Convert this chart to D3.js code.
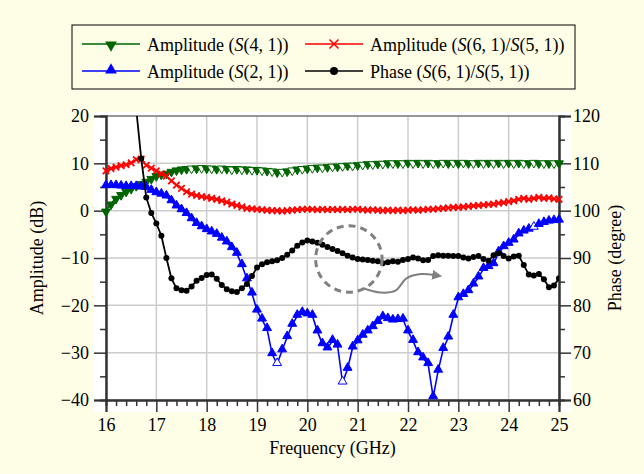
<!DOCTYPE html>
<html>
<head>
<meta charset="utf-8">
<script src="https://cdn.jsdelivr.net/npm/d3@7"></script>
<style>
  html, body { margin: 0; padding: 0; background: #fefee6; }
  svg { display: block; }
</style>
</head>
<body>
<svg id="chart" width="644" height="474"></svg>
<script>
'use strict';

var FONT = 'Liberation Serif', FS = 18;

// frequency grid (GHz), one sample every 0.1 GHz
var freqs = d3.range(0, 91).map(function(i) { return +(16 + i * 0.1).toFixed(1); });

// Amplitude S(4,1), dB
var s41 = [0.0, 1.5, 2.7, 3.5, 4.2, 4.8, 5.4, 5.8, 6.3, 6.9,
    7.5, 7.8, 8.0, 8.4, 8.7, 8.9, 9.0, 9.1, 9.1, 9.2,
    9.1, 9.1, 9.0, 9.1, 9.0, 8.9, 9.0, 8.9, 8.9, 8.8,
    8.8, 8.7, 8.6, 8.5, 8.3, 8.4, 8.5, 8.7, 8.9, 9.0,
    9.1, 9.2, 9.3, 9.3, 9.4, 9.5, 9.5, 9.6, 9.7, 9.7,
    9.8, 9.9, 10.0, 10.0, 10.1, 10.1, 10.2, 10.2, 10.2, 10.2,
    10.3, 10.2, 10.3, 10.2, 10.3, 10.2, 10.2, 10.3, 10.2, 10.3,
    10.2, 10.3, 10.2, 10.2, 10.3, 10.2, 10.3, 10.2, 10.3, 10.2,
    10.3, 10.2, 10.3, 10.2, 10.2, 10.3, 10.2, 10.2, 10.2, 10.2,
    10.2];

// Amplitude S(6,1)/S(5,1), dB
var s61s51 = [8.4, 8.9, 9.2, 9.5, 9.7, 10.1, 10.8, 10.9, 9.6, 9.0,
    8.4, 7.8, 7.3, 6.3, 5.4, 4.7, 4.0, 3.5, 3.2, 3.0,
    2.8, 2.6, 2.4, 2.1, 1.8, 1.4, 1.1, 0.8, 0.5, 0.4,
    0.3, 0.2, 0.1, 0.0, 0.0, -0.1, 0.0, 0.1, 0.2, 0.3,
    0.3, 0.3, 0.2, 0.3, 0.2, 0.3, 0.2, 0.3, 0.2, 0.3,
    0.3, 0.2, 0.1, 0.2, 0.1, 0.0, 0.1, 0.0, 0.1, 0.0,
    0.1, 0.2, 0.1, 0.2, 0.3, 0.3, 0.4, 0.5, 0.6, 0.7,
    0.7, 0.8, 0.9, 1.0, 1.1, 1.2, 1.3, 1.4, 1.6, 1.7,
    1.9, 2.1, 2.4, 2.6, 2.4, 2.6, 2.8, 2.6, 2.7, 2.5,
    2.4];

// Amplitude S(2,1), dB
var s21 = [5.2, 5.2, 5.2, 5.1, 5.0, 5.0, 5.0, 4.9, 4.8, 4.2,
    3.7, 3.4, 3.0, 2.0, 0.9, 0.1, -0.7, -1.8, -2.8, -3.5,
    -4.1, -4.6, -5.1, -5.9, -6.7, -7.9, -9.1, -11.5, -14.5, -17.5,
    -21.1, -23.0, -25.0, -30.3, -32.4, -29.5, -26.7, -24.1, -22.2, -21.6,
    -21.9, -22.2, -25.5, -28.2, -29.1, -27.5, -28.5, -36.3, -33.4, -28.9,
    -27.6, -26.4, -25.5, -24.6, -23.5, -22.5, -22.9, -23.2, -23.1, -23.0,
    -25.5, -27.5, -30.1, -31.2, -32.4, -39.4, -33.8, -29.2, -26.8, -22.2,
    -18.5, -17.8, -17.0, -15.6, -14.1, -12.3, -11.9, -11.3, -8.8, -7.7,
    -7.0, -6.3, -5.0, -4.4, -4.0, -3.6, -3.0, -2.6, -2.3, -2.2,
    -2.1];

// Phase S(6,1)/S(5,1), degree (starts above the axis top)
var phaseFreqs = freqs.slice(5);
var phase = [135.0, 121.5, 111.0, 102.8, 99.5,
    97.3, 94.7, 90.0, 85.7, 83.6, 83.2, 83.1, 84.0, 85.2, 85.8,
    86.4, 86.5, 85.6, 84.3, 83.4, 83.0, 82.8, 83.6, 84.5, 86.2,
    88.0, 88.7, 89.1, 89.3, 89.5, 90.0, 90.7, 91.6, 92.6, 93.3,
    93.7, 93.5, 93.2, 92.8, 92.3, 91.9, 91.5, 91.0, 90.5, 90.1,
    89.8, 89.7, 89.6, 89.4, 89.3, 88.9, 89.1, 89.3, 89.2, 89.6,
    89.8, 90.1, 89.9, 89.5, 89.6, 90.4, 90.6, 90.5, 90.5, 90.4,
    90.4, 90.1, 89.9, 90.2, 90.4, 89.8, 89.4, 90.6, 91.0, 90.4,
    89.9, 90.3, 90.5, 88.5, 86.5, 86.3, 86.6, 85.5, 83.8, 84.2,
    85.7];

// hollow markers seen on the S(2,1) trace
var s21Hollow = [19.4, 20.7, 24.5];

var xTicks = d3.range(16, 26, 1);
var yTicks = [-40, -30, -20, -10, 0, 10, 20];
var yRightTicks = [60, 70, 80, 90, 100, 110, 120];

var colGreen = '#006400', colRed = '#ff0000', colBlue = '#0000ff', colBlack = '#000000';

var margin = {top: 116, right: 85, bottom: 74, left: 106},
    W = 644, H = 474,
    width = W - margin.left - margin.right,
    height = H - margin.top - margin.bottom;

var svg = d3.select('#chart').attr('font-family', FONT);
svg.append('rect').attr('width', W).attr('height', H).attr('fill', '#fefee6');

var x = d3.scaleLinear().domain([16, 25]).range([0, width]);
var y = d3.scaleLinear().domain([-40, 20]).range([height, 0]);
var yR = d3.scaleLinear().domain([60, 120]).range([height, 0]);

var g = svg.append('g').attr('transform', 'translate(' + margin.left + ',' + margin.top + ')');

// white plotting panel, a little larger than the axes box
g.append('rect')
    .attr('x', -13).attr('y', -4)
    .attr('width', width + 26).attr('height', height + 16)
    .attr('fill', '#ffffff');

g.append('defs').append('clipPath').attr('id', 'plotclip')
    .append('rect').attr('width', width).attr('height', height);

// grid
g.append('g').selectAll('line').data(xTicks).join('line')
    .attr('x1', d => x(d)).attr('x2', d => x(d))
    .attr('y1', 0).attr('y2', height)
    .attr('stroke', '#cccccc').attr('stroke-width', 1.5);
g.append('g').selectAll('line').data(yTicks).join('line')
    .attr('x1', 0).attr('x2', width)
    .attr('y1', d => y(d)).attr('y2', d => y(d))
    .attr('stroke', '#cccccc').attr('stroke-width', 1.5);

// top border
g.append('line').attr('x1', 0).attr('x2', width).attr('y1', 0).attr('y2', 0)
    .attr('stroke', '#555').attr('stroke-width', 1);

function styleAxis(sel) {
    sel.attr('font-family', FONT).attr('font-size', FS);
    sel.select('.domain').attr('stroke', '#333').attr('stroke-width', 2);
    sel.selectAll('.tick line').attr('stroke', '#333').attr('stroke-width', 1.5);
    sel.selectAll('.tick text').attr('fill', '#000')
        .attr('font-family', FONT).attr('font-size', FS);
}

function fmt(d) { return d < 0 ? '\u2212' + Math.abs(d) : '' + d; }

// minor ticks
var xMinor = d3.range(16, 25.001, 0.2).filter(d => Math.abs(d - Math.round(d)) > 0.01);
g.append('g').attr('transform', 'translate(0,' + height + ')')
    .call(d3.axisBottom(x).tickValues(xMinor).tickSize(6).tickFormat(''))
    .call(styleAxis);
g.append('g').call(d3.axisLeft(y).tickValues([-35, -25, -15, -5, 5, 15]).tickSize(6).tickFormat(''))
    .call(styleAxis);
g.append('g').attr('transform', 'translate(' + width + ',0)')
    .call(d3.axisRight(yR).tickValues([65, 75, 85, 95, 105, 115]).tickSize(6).tickFormat(''))
    .call(styleAxis);

// major axes
g.append('g').attr('transform', 'translate(0,' + height + ')')
    .call(d3.axisBottom(x).tickValues(xTicks).tickSize(12).tickPadding(6).tickFormat(d3.format('d')))
    .call(styleAxis);
g.append('g')
    .call(d3.axisLeft(y).tickValues(yTicks).tickSize(12).tickPadding(5).tickFormat(fmt))
    .call(styleAxis);
g.append('g').attr('transform', 'translate(' + width + ',0)')
    .call(d3.axisRight(yR).tickValues(yRightTicks).tickSize(12).tickPadding(2).tickFormat(d3.format('d')))
    .call(styleAxis);

// axis titles
function title(sel) { return sel.attr('font-family', FONT).attr('font-size', FS).attr('text-anchor', 'middle'); }
svg.append('text').attr('x', margin.left + width / 2).attr('y', 454)
    .call(title).text('Frequency (GHz)');
svg.append('text').attr('transform', 'translate(43,' + (margin.top + height / 2) + ') rotate(-90)')
    .call(title).text('Amplitude (dB)');
svg.append('text').attr('transform', 'translate(621,' + (margin.top + height / 2) + ') rotate(-90)')
    .call(title).text('Phase (degree)');

// symbols
var triUp = d3.symbol().type(d3.symbolTriangle).size(34);
var triUpLg = d3.symbol().type(d3.symbolTriangle).size(60);
function crossPath(r) {
    return 'M' + (-r) + ',' + (-r) + 'L' + r + ',' + r + 'M' + (-r) + ',' + r + 'L' + r + ',' + (-r);
}

function series(xs, ys, yScale) {
    return xs.map(function(f, i) { return {f: f, v: ys[i], x: x(f), y: yScale(ys[i])}; });
}

var line = d3.line().x(d => d.x).y(d => d.y);

// S(4,1)
var dGreen = series(freqs, s41, y);
var gGreen = g.append('g');
gGreen.append('path').datum(dGreen).attr('d', line)
    .attr('fill', 'none').attr('stroke', colGreen).attr('stroke-width', 1.6);
gGreen.selectAll('path.m').data(dGreen).join('path').attr('class', 'm')
    .attr('d', triUp)
    .attr('transform', d => 'translate(' + d.x + ',' + (d.y + 1) + ') rotate(180)')
    .attr('fill', (d, i) => (i > 15 && i % 2 === 1) ? '#ffffff' : colGreen)
    .attr('stroke', colGreen).attr('stroke-width', 1);

// S(6,1)/S(5,1) amplitude
var dRed = series(freqs, s61s51, y);
var gRed = g.append('g');
gRed.append('path').datum(dRed).attr('d', line)
    .attr('fill', 'none').attr('stroke', colRed).attr('stroke-width', 1.6);
gRed.selectAll('path.m').data(dRed).join('path').attr('class', 'm')
    .attr('d', crossPath(3.2))
    .attr('transform', d => 'translate(' + d.x + ',' + d.y + ')')
    .attr('fill', 'none').attr('stroke', colRed).attr('stroke-width', 1.8);

// S(2,1)
var dBlue = series(freqs, s21, y);
var gBlue = g.append('g');
gBlue.append('path').datum(dBlue).attr('d', line)
    .attr('fill', 'none').attr('stroke', colBlue).attr('stroke-width', 1.6);
gBlue.selectAll('path.m').data(dBlue).join('path').attr('class', 'm')
    .attr('d', triUp)
    .attr('transform', d => 'translate(' + d.x + ',' + (d.y - 1) + ')')
    .attr('fill', d => s21Hollow.indexOf(d.f) >= 0 ? '#ffffff' : colBlue)
    .attr('stroke', colBlue).attr('stroke-width', 1);

// Phase
var dBlack = series(phaseFreqs, phase, yR);
var gBlack = g.append('g').attr('clip-path', 'url(#plotclip)');
gBlack.append('path').datum(dBlack).attr('d', line)
    .attr('fill', 'none').attr('stroke', colBlack).attr('stroke-width', 1.8);
gBlack.selectAll('circle').data(dBlack).join('circle')
    .attr('cx', d => d.x).attr('cy', d => d.y).attr('r', 3)
    .attr('fill', colBlack);

// annotation: dashed circle around the phase trace, with a curved arrow to the right axis
var circ = {f: 20.825, v: -10.2, rf: 0.66};
g.append('circle')
    .attr('cx', x(circ.f)).attr('cy', y(circ.v))
    .attr('r', x(circ.f + circ.rf) - x(circ.f))
    .attr('fill', 'none').attr('stroke', '#808080')
    .attr('stroke-width', 3).attr('stroke-dasharray', '7,5');

var arrowPts = [[21.11, -16.4], [21.45, -17.3], [21.75, -16.9], [21.97, -14.3], [22.25, -13.4], [22.52, -13.6]];
svg.append('defs').append('marker').attr('id', 'arrowhead')
    .attr('viewBox', '0 0 10 10').attr('refX', 2).attr('refY', 5)
    .attr('markerWidth', 5).attr('markerHeight', 5).attr('orient', 'auto')
    .append('path').attr('d', 'M0,0L10,5L0,10Z').attr('fill', '#808080');
g.append('path').datum(arrowPts)
    .attr('d', d3.line().x(d => x(d[0])).y(d => y(d[1])).curve(d3.curveCatmullRom))
    .attr('fill', 'none').attr('stroke', '#808080').attr('stroke-width', 2)
    .attr('marker-end', 'url(#arrowhead)');

// legend
var legend = svg.append('g');
legend.append('rect').attr('x', 72).attr('y', 25).attr('width', 503).attr('height', 64)
    .attr('fill', '#fefee6').attr('stroke', '#000').attr('stroke-width', 1);

var legendItems = [
    {col: 0, row: 0, color: colGreen, sym: 'down', parts: ['Amplitude (', 'S', '(4, 1))']},
    {col: 1, row: 0, color: colRed, sym: 'cross', parts: ['Amplitude (', 'S', '(6, 1)/', 'S', '(5, 1))']},
    {col: 0, row: 1, color: colBlue, sym: 'up', parts: ['Amplitude (', 'S', '(2, 1))']},
    {col: 1, row: 1, color: colBlack, sym: 'dot', parts: ['Phase (', 'S', '(6, 1)/', 'S', '(5, 1))']}
];
var colX = [82, 305], rowY = [44, 71];

legendItems.forEach(function(it) {
    var lx = colX[it.col], ly = rowY[it.row];
    var li = legend.append('g').attr('transform', 'translate(' + lx + ',' + ly + ')');
    li.append('line').attr('x1', 0).attr('x2', 58).attr('y1', 0).attr('y2', 0)
        .attr('stroke', it.color).attr('stroke-width', 1.5);
    if (it.sym === 'down') {
        li.append('path').attr('d', triUpLg).attr('transform', 'translate(29,1) rotate(180)').attr('fill', it.color);
    } else if (it.sym === 'up') {
        li.append('path').attr('d', triUpLg).attr('transform', 'translate(29,-1)').attr('fill', it.color);
    } else if (it.sym === 'cross') {
        li.append('path').attr('d', crossPath(4.5)).attr('transform', 'translate(29,0)')
            .attr('stroke', it.color).attr('stroke-width', 1.5).attr('fill', 'none');
    } else {
        li.append('circle').attr('cx', 29).attr('cy', 0).attr('r', 4).attr('fill', it.color);
    }
    var t = li.append('text').attr('x', 65).attr('y', 6.5)
        .attr('font-family', FONT).attr('font-size', FS);
    it.parts.forEach(function(p) {
        t.append('tspan').attr('font-style', p === 'S' ? 'italic' : 'normal').text(p);
    });
});
</script>
</body>
</html>
